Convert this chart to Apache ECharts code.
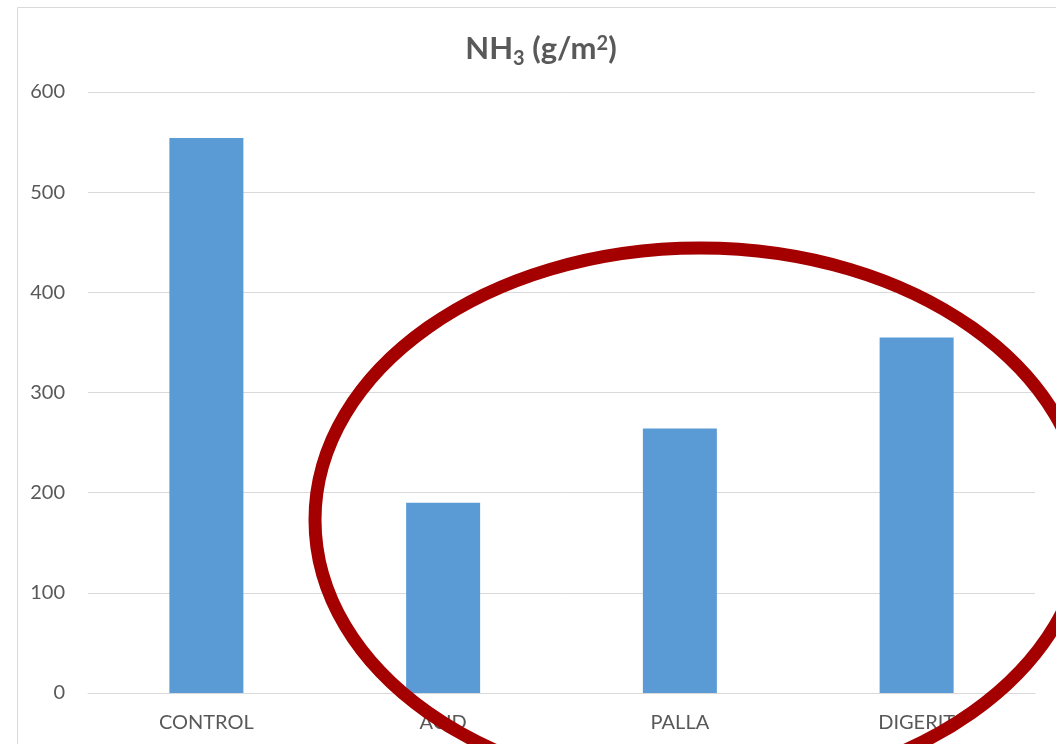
<!DOCTYPE html>
<html>
<head>
<meta charset="utf-8">
<script src="https://cdn.jsdelivr.net/npm/echarts@6/dist/echarts.min.js"></script>
<style>
  html, body { margin: 0; padding: 0; background: #ffffff; }
  #chart { width: 1056px; height: 744px; }
</style>
</head>
<body>
<div id="chart"></div>
<script>
// NH3 emissions per treatment (g/m²)
const categories = ['CONTROL', 'ACID', 'PALLA', 'DIGERIT'];
const nh3Values = [554, 190, 264, 355];
const yTicks = { min: 0, max: 600, interval: 100 };

const textGray = '#595959';
const gridGray = '#D9D9D9';
const barBlue = '#5B9BD5';
const markRed = '#A50000';

const chart = echarts.init(document.getElementById('chart'), null, { renderer: 'canvas' });

chart.setOption({
  backgroundColor: '#ffffff',
  animation: false,
  title: {
    text: '{a|NH}{s|3}{a| (g/m}{p|2}{a|)}',
    left: 536,
    textAlign: 'center',
    top: 24,
    textStyle: {
      rich: {
        a: { fontFamily: 'Lato', fontWeight: 'bold', fontSize: 31, color: textGray, lineHeight: 40, verticalAlign: 'middle' },
        s: { fontFamily: 'Lato', fontWeight: 'bold', fontSize: 20, color: textGray, lineHeight: 20, verticalAlign: 'bottom' },
        p: { fontFamily: 'Lato', fontWeight: 'bold', fontSize: 20, color: textGray, lineHeight: 20, verticalAlign: 'top', padding: [5, 0, 0, 0] }
      }
    }
  },
  grid: { left: 88, right: 21, top: 92, bottom: 51, containLabel: false },
  xAxis: {
    type: 'category',
    data: categories,
    axisLine: { show: true, lineStyle: { color: gridGray, width: 1 } },
    axisTick: { show: false },
    axisLabel: { color: textGray, fontFamily: 'Lato', fontSize: 20, margin: 20 }
  },
  yAxis: {
    type: 'value',
    min: yTicks.min,
    max: yTicks.max,
    interval: yTicks.interval,
    axisLine: { show: false },
    axisTick: { show: false },
    splitLine: { lineStyle: { color: gridGray, width: 1 } },
    axisLabel: { color: textGray, fontFamily: 'Lato', fontSize: 20, margin: 23 }
  },
  series: [{
    type: 'bar',
    data: nh3Values,
    barWidth: 74,
    itemStyle: { color: barBlue },
    z: 2
  }],
  graphic: [
    // chart area frame
    {
      type: 'rect',
      z: 0,
      silent: true,
      shape: { x: 17.5, y: 7.5, width: 1200, height: 1000 },
      style: { fill: 'none', stroke: gridGray, lineWidth: 1 }
    },
    // highlight ring around the treated samples
    {
      type: 'ellipse',
      z: 100,
      silent: true,
      shape: { cx: 700, cy: 520, rx: 385, ry: 272 },
      style: { fill: 'none', stroke: markRed, lineWidth: 13 }
    }
  ]
});
</script>
</body>
</html>
